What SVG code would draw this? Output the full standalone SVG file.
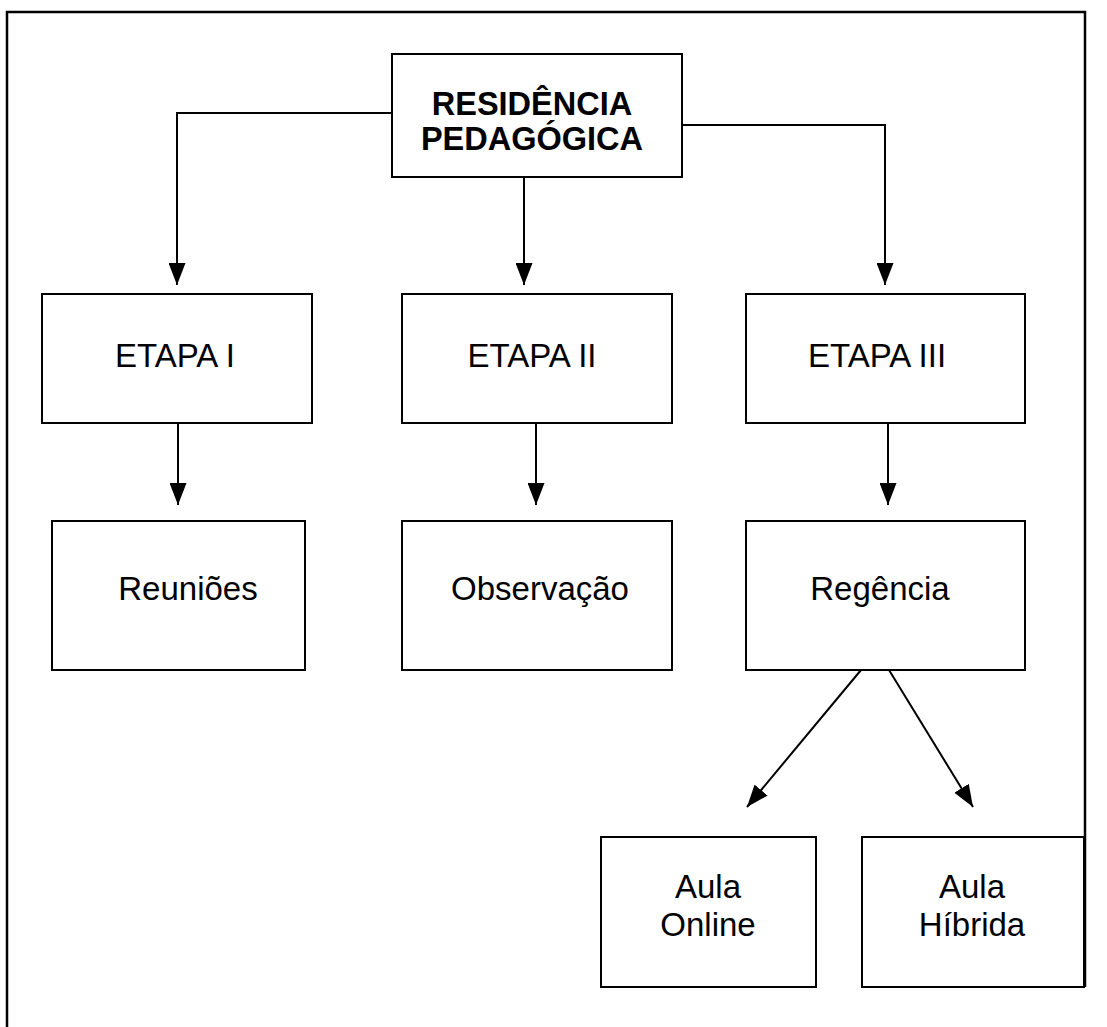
<svg xmlns="http://www.w3.org/2000/svg" width="1107" height="1027" viewBox="0 0 1107 1027">
<style>
.box{fill:#fff;stroke:#000;stroke-width:2}
.t{font-family:"Liberation Sans",Arial,sans-serif;font-size:33px;fill:#000;text-anchor:middle}
.b{font-weight:bold;font-size:32.5px}
.c{fill:none;stroke:#000;stroke-width:2}
</style>
<defs>
<marker id="ah" markerWidth="22" markerHeight="17" refX="22" refY="8.5" viewBox="0 0 22 17" orient="auto" markerUnits="userSpaceOnUse">
<path d="M0,0 L22,8.5 L0,17 Z" fill="#000"/>
</marker>
</defs>
<rect width="1107" height="1027" fill="#fff"/>
<path d="M7,1027 V12 H1085 V987" fill="none" stroke="#000" stroke-width="2.5"/>
<g id="connectors">
<path class="c" d="M392,113 H177 V285" marker-end="url(#ah)"/>
<path class="c" d="M524,177 V285" marker-end="url(#ah)"/>
<path class="c" d="M682,125 H885 V285" marker-end="url(#ah)"/>
<path class="c" d="M178,423 V505" marker-end="url(#ah)"/>
<path class="c" d="M536,423 V505" marker-end="url(#ah)"/>
<path class="c" d="M888,423 V505" marker-end="url(#ah)"/>
<path class="c" d="M861,670 L747,807" marker-end="url(#ah)"/>
<path class="c" d="M889,670 L973,807" marker-end="url(#ah)"/>
</g>
<g id="residencia">
<rect class="box" x="392" y="54" width="290" height="123"/>
<text class="t b" x="532" y="115">RESIDÊNCIA</text>
<text class="t b" x="532" y="150">PEDAGÓGICA</text>
</g>
<g id="etapa1">
<rect class="box" x="42" y="294" width="270" height="129"/>
<text class="t" x="175" y="367">ETAPA I</text>
</g>
<g id="etapa2">
<rect class="box" x="402" y="294" width="270" height="129"/>
<text class="t" x="532" y="367">ETAPA II</text>
</g>
<g id="etapa3">
<rect class="box" x="746" y="294" width="279" height="129"/>
<text class="t" x="877" y="367">ETAPA III</text>
</g>
<g id="reunioes">
<rect class="box" x="52" y="521" width="253" height="149"/>
<text class="t" x="188" y="600">Reuniões</text>
</g>
<g id="observacao">
<rect class="box" x="402" y="521" width="270" height="149"/>
<text class="t" x="540" y="600">Observação</text>
</g>
<g id="regencia">
<rect class="box" x="746" y="521" width="279" height="149"/>
<text class="t" x="880" y="600">Regência</text>
</g>
<g id="aula-online">
<rect class="box" x="601" y="837" width="215" height="150"/>
<text class="t" x="708" y="898">Aula</text>
<text class="t" x="708" y="936">Online</text>
</g>
<g id="aula-hibrida">
<rect class="box" x="862" y="837" width="222" height="150"/>
<text class="t" x="972" y="898">Aula</text>
<text class="t" x="972" y="936">Híbrida</text>
</g>
</svg>
